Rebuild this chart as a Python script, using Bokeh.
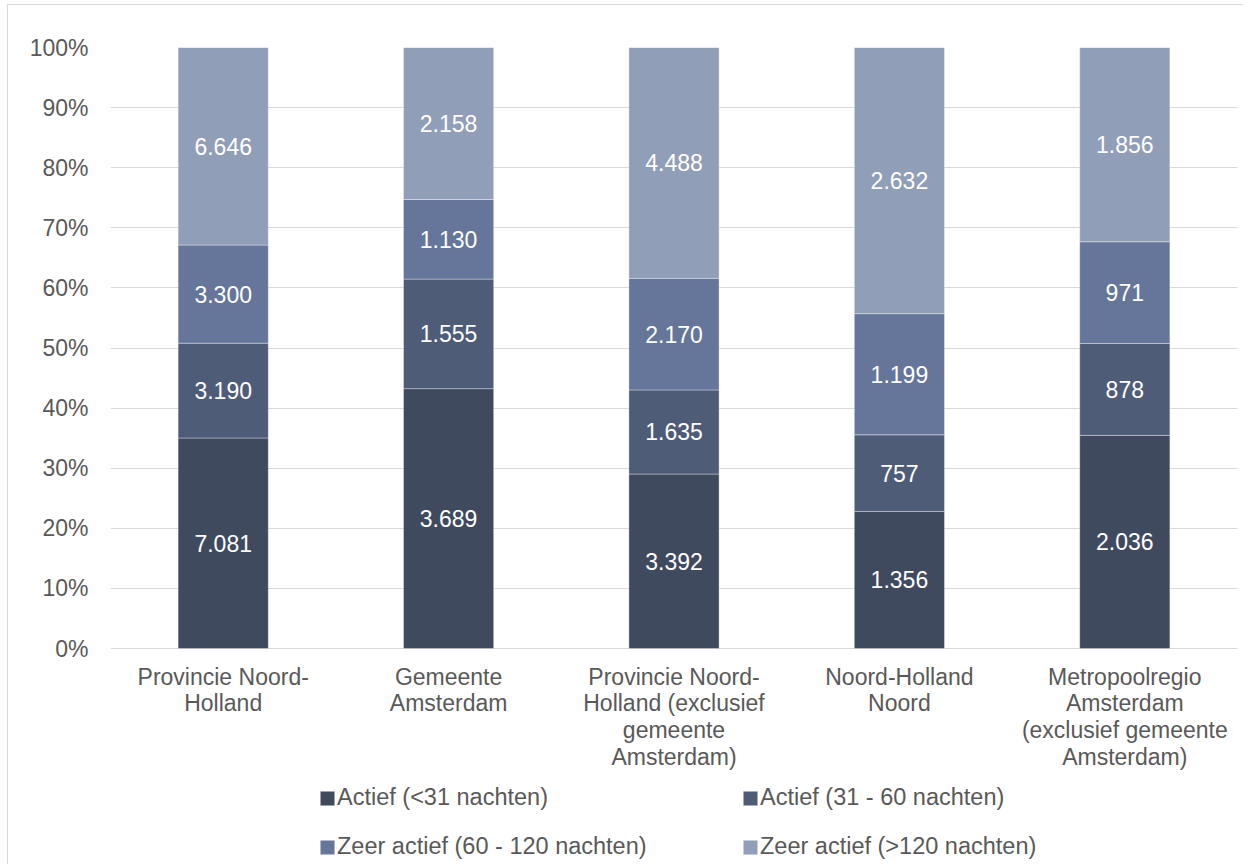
import numpy as np
from bokeh.plotting import figure
from bokeh.models import (ColumnDataSource, FactorRange, Range1d, NumeralTickFormatter,
                          Legend, LegendItem)
from bokeh.core.properties import value
from bokeh.embed import file_html
from bokeh.resources import INLINE

# Regions (axis labels, line breaks as shown under the bars)
regions = [
    "Provincie Noord-\nHolland",
    "Gemeente\nAmsterdam",
    "Provincie Noord-\nHolland (exclusief\ngemeente\nAmsterdam)",
    "Noord-Holland\nNoord",
    "Metropoolregio\nAmsterdam\n(exclusief gemeente\nAmsterdam)",
]

# Number of listings per activity class
actief_lt31 = [7081, 3689, 3392, 1356, 2036]
actief_31_60 = [3190, 1555, 1635, 757, 878]
zeer_actief_60_120 = [3300, 1130, 2170, 1199, 971]
zeer_actief_gt120 = [6646, 2158, 4488, 2632, 1856]

series_names = [
    "Actief (<31 nachten)",
    "Actief (31 - 60 nachten)",
    "Zeer actief (60 - 120 nachten)",
    "Zeer actief (>120 nachten)",
]
series_values = [actief_lt31, actief_31_60, zeer_actief_60_120, zeer_actief_gt120]
colors = ["#3F4A5F", "#4F5C78", "#65769A", "#919EB7"]

FONT = "Liberation Sans"
GREY = "#595959"

counts = np.array(series_values, dtype=float)
shares = counts / counts.sum(axis=0)
tops = np.cumsum(shares, axis=0)
bottoms = tops - shares

W, H = 1236, 860
TOP = 42           # space above the 100% line
PX_PER_UNIT = 601  # height of the 0-100% band in pixels
y_min = -(H - TOP - PX_PER_UNIT) / PX_PER_UNIT

# The frame reaches down to the bottom edge so the category labels and the
# legend can sit below the 0% line inside the plotting area.
p = figure(
    width=W, height=H,
    x_range=FactorRange(*regions, range_padding=0),
    y_range=Range1d(y_min, 1),
    output_backend="svg", toolbar_location=None,
    min_border_left=102, min_border_top=TOP, min_border_right=7, min_border_bottom=0,
)
p.styles = {
    "margin-left": "7px", "margin-top": "4px",
    "border-left": "1px solid #d9d9d9", "border-top": "1px solid #d9d9d9",
}
p.outline_line_color = None
p.background_fill_color = "white"
p.border_fill_color = "white"

renderers = []
for i, name in enumerate(series_names):
    src = ColumnDataSource(dict(
        x=regions,
        bottom=bottoms[i],
        top=tops[i],
        mid=(bottoms[i] + tops[i]) / 2,
        label=[f"{int(v):,}".replace(",", ".") for v in series_values[i]],
    ))
    r = p.vbar(x="x", bottom="bottom", top="top", width=0.4, source=src,
               fill_color=colors[i], line_color="white", line_alpha=0.35, line_width=1)
    renderers.append(r)
    p.text(x="x", y="mid", text="label", source=src,
           text_color="white", text_font=value(FONT), text_font_size="23px",
           text_align="center", text_baseline="middle")

# Category labels under the 0% line
cat_src = ColumnDataSource(dict(x=regions, y=[-15 / PX_PER_UNIT] * len(regions), text=regions))
p.text(x="x", y="y", text="text", source=cat_src,
       text_color=GREY, text_font=value(FONT), text_font_size="23px",
       text_align="center", text_baseline="top", text_line_height=1.03)

# Axes and grid
p.xaxis.visible = False
p.xgrid.grid_line_color = None
p.ygrid.grid_line_color = "#d9d9d9"
p.ygrid.grid_line_width = 1
p.yaxis.ticker = [i / 10 for i in range(11)]
p.ygrid.ticker = [i / 10 for i in range(11)]
p.yaxis.formatter = NumeralTickFormatter(format="0%")
p.yaxis.axis_line_color = None
p.yaxis.major_tick_line_color = None
p.yaxis.minor_tick_line_color = None
p.yaxis.major_tick_out = 0
p.yaxis.major_tick_in = 0
p.yaxis.major_label_standoff = 22
p.yaxis.major_label_text_font = FONT
p.yaxis.major_label_text_font_size = "23px"
p.yaxis.major_label_text_color = GREY

# Legend: two columns, two rows below the category labels
legend_pos = [(208, 54), (631, 54), (208, 5), (631, 5)]
for r, name, pos in zip(renderers, series_names, legend_pos):
    lg = Legend(items=[LegendItem(label=name, renderers=[r])], location=pos,
                border_line_color=None, background_fill_alpha=0,
                padding=0, margin=0, spacing=0,
                glyph_width=18, glyph_height=18, label_standoff=1,
                label_text_font=FONT, label_text_font_size="23.5px",
                label_text_color=GREY)
    p.add_layout(lg, "center")

open("out.html", "w").write(file_html(p, INLINE))
